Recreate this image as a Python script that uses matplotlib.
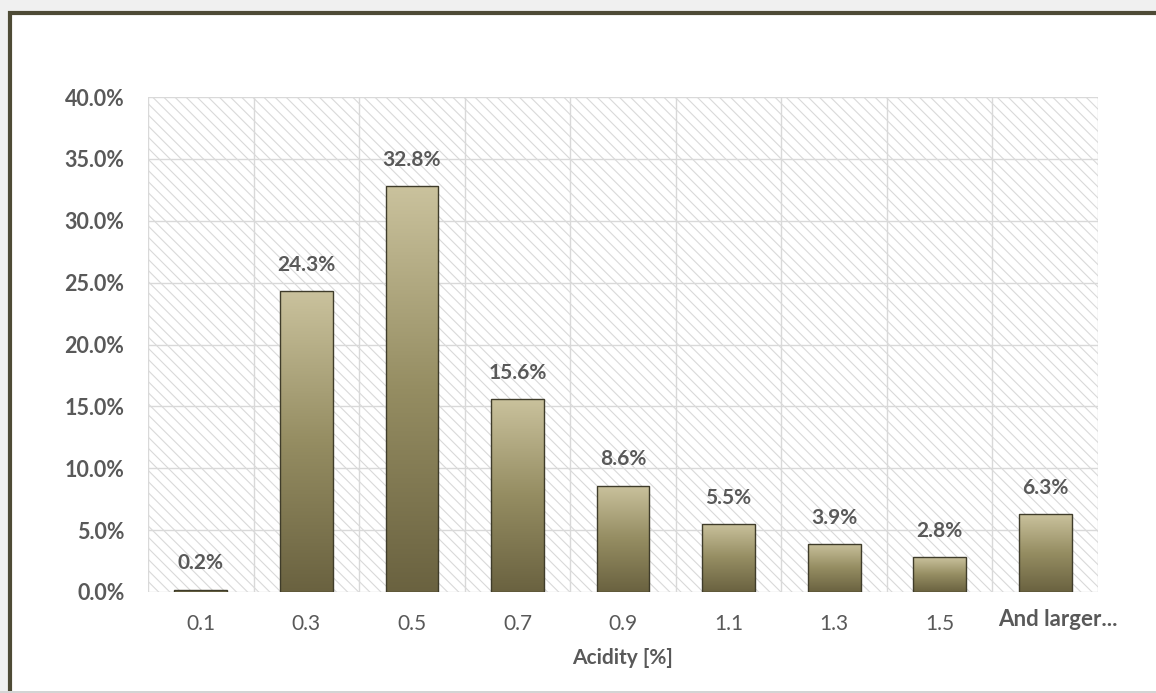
import matplotlib
matplotlib.use("Agg")
import matplotlib.pyplot as plt
import numpy as np
from matplotlib.patches import Rectangle
from matplotlib.colors import LinearSegmentedColormap

categories = ["0.1", "0.3", "0.5", "0.7", "0.9", "1.1", "1.3", "1.5", "And larger..."]
values = [0.2, 24.3, 32.8, 15.6, 8.6, 5.5, 3.9, 2.8, 6.3]
yticks = [0, 5, 10, 15, 20, 25, 30, 35, 40]

plt.rcParams['font.family'] = ['Lato', 'DejaVu Sans']
plt.rcParams['hatch.linewidth'] = 0.8
plt.rcParams['hatch.color'] = '#d9d9d9'

W, H = 1156, 693
fig = plt.figure(figsize=(W / 100, H / 100), dpi=100, facecolor='#f0f0f0')

# outer frame
frame = Rectangle((10 / W, -6 / H), 1.2, 1 - 7 / H, transform=fig.transFigure,
                  facecolor='white', edgecolor='#4e4b36', linewidth=3, zorder=-10)
fig.patches.append(frame)
strip = Rectangle((0, 0), 1, 2 / H, transform=fig.transFigure,
                  facecolor='#d4d4d4', edgecolor='none', zorder=-9)
fig.patches.append(strip)

ax = fig.add_axes([148 / W, 1 - 592 / H, (1098 - 148) / W, (592 - 97) / H])
ax.set_zorder(5)
ax.set_facecolor('white')
n = len(categories)
x = np.arange(n)
ax.set_xlim(-0.5, n - 0.5)
ax.set_ylim(0, 40)

# hatched background
bg = Rectangle((-0.5, 0), n, 40, facecolor='white', edgecolor='#d9d9d9',
               hatch='\\\\\\', linewidth=0, zorder=0)
ax.add_patch(bg)

# grid
for yv in yticks:
    ax.axhline(yv, color='#d9d9d9', lw=1.0, zorder=1)
for b in np.arange(-0.5, n, 1.0):
    ax.axvline(b, color='#d9d9d9', lw=1.0, zorder=1)

cmap = LinearSegmentedColormap.from_list('olive', ['#6a6240', '#958d62', '#cac29d'])
grad = np.linspace(0, 1, 256).reshape(-1, 1)
bw = 0.5
bars = ax.bar(x, values, width=bw, facecolor='none', edgecolor='#3f3c2a', linewidth=1.0, zorder=4)
for rect, v in zip(bars, values):
    x0 = rect.get_x()
    im = ax.imshow(grad, extent=[x0, x0 + bw, 0, max(v, 0.05)], origin='lower',
                   cmap=cmap, aspect='auto', zorder=3, interpolation='bilinear')
    im.set_clip_path(rect)
    ax.text(rect.get_x() + bw / 2, v + 1.3, f"{v:.1f}%", ha='center', va='bottom',
            fontsize=15, fontweight='bold', color='#595959', zorder=5)

ax.set_xlim(-0.5, n - 0.5)
ax.set_ylim(0, 40)
ax.set_yticks(yticks)
ax.set_yticklabels([f"{t:.1f}%" for t in yticks], fontsize=15.5, fontweight='bold', color='#595959')
ax.set_xticks(x)
ax.set_xticklabels(categories[:-1] + [""], fontsize=15, color='#595959')
ax.text(x[-1] + 0.12, -28 / 495, categories[-1], transform=ax.get_xaxis_transform(),
        ha='center', va='center', fontsize=16, fontweight='bold', color='#595959', clip_on=False)
ax.tick_params(axis='both', length=0)
ax.tick_params(axis='y', pad=17)
ax.tick_params(axis='x', pad=16)
for s in ax.spines.values():
    s.set_visible(False)
ax.set_xlabel("Acidity [%]", fontsize=15, fontweight='bold', color='#595959', labelpad=10)

fig.savefig("out.png", dpi=100, facecolor=fig.get_facecolor())
